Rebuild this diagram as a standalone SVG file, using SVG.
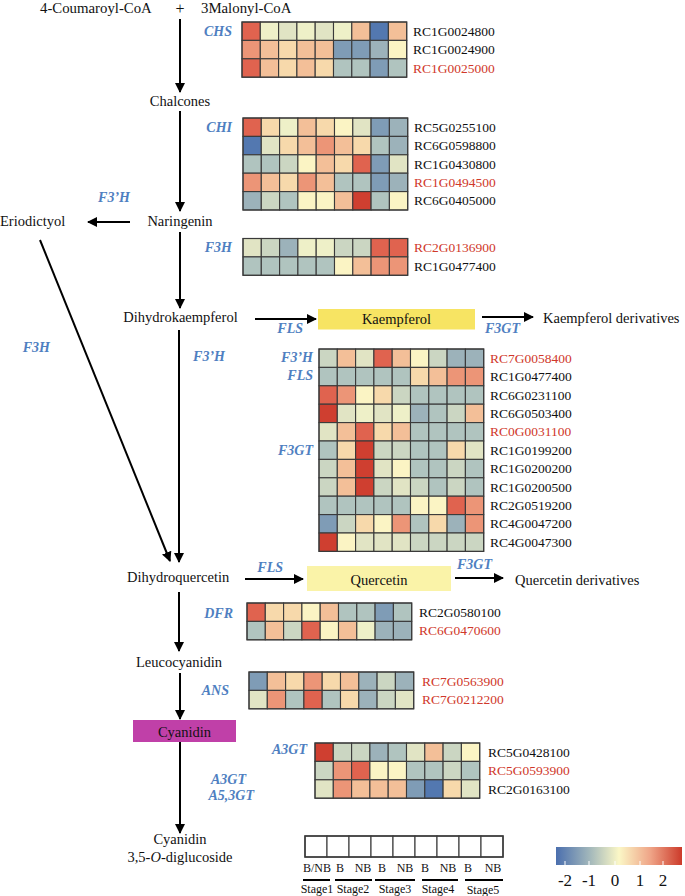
<svg xmlns="http://www.w3.org/2000/svg" width="685" height="896" viewBox="0 0 685 896">
<style>
text{font-family:"Liberation Serif","Times New Roman",serif;fill:#111}
.n{font-size:14.5px}
.id{font-size:13.5px}
.red{fill:#d0382a}
.en{font-size:14px;font-weight:bold;font-style:italic;fill:#4f7fc1}
.sm{font-size:12px}
.ln{stroke:#000;stroke-width:2;fill:none}
.hm rect{stroke:#3a3a3a;stroke-width:1.1}
.fr{fill:none;stroke:#333;stroke-width:2}
.R3{fill:#cf3f30}.R2{fill:#e0634f}.R1{fill:#ec9577}.O{fill:#f3bf98}.Y2{fill:#f7d9ab}
.Y{fill:#fbf4c4}.YG{fill:#eef0c8}.G1{fill:#e1e4c4}.G2{fill:#cbd6c2}.G3{fill:#b0c4bf}
.B1{fill:#9cb2ba}.B2{fill:#7f9cb6}.B3{fill:#5378b0}.W{fill:#fff}
</style>
<defs>
<marker id="ah" viewBox="0 0 10 10" refX="9" refY="5" markerWidth="5" markerHeight="5" orient="auto" markerUnits="strokeWidth">
<path d="M0,0 L10,5 L0,10 z" fill="#000"/>
</marker>
<linearGradient id="cb" x1="0" x2="1" y1="0" y2="0">
<stop offset="0" stop-color="#4b6fae"/>
<stop offset="0.27" stop-color="#a3b8bb"/>
<stop offset="0.5" stop-color="#fbf7c6"/>
<stop offset="0.75" stop-color="#efa487"/>
<stop offset="1" stop-color="#cc3a2a"/>
</linearGradient>
</defs>

<g id="connectors">
<line class="ln" x1="180" y1="19" x2="180" y2="92" marker-end="url(#ah)"/>
<line class="ln" x1="180" y1="111" x2="180" y2="211" marker-end="url(#ah)"/>
<line class="ln" x1="130" y1="222" x2="88" y2="222" marker-end="url(#ah)"/>
<line class="ln" x1="180" y1="232" x2="180" y2="308" marker-end="url(#ah)"/>
<line class="ln" x1="40" y1="240" x2="170" y2="561" marker-end="url(#ah)"/>
<line class="ln" x1="179" y1="330" x2="179" y2="562" marker-end="url(#ah)"/>
<line class="ln" x1="255" y1="319" x2="316" y2="319" marker-end="url(#ah)"/>
<line class="ln" x1="482" y1="317" x2="533" y2="317" marker-end="url(#ah)"/>
<line class="ln" x1="245" y1="579" x2="303" y2="579" marker-end="url(#ah)"/>
<line class="ln" x1="455" y1="578" x2="503" y2="578" marker-end="url(#ah)"/>
<line class="ln" x1="179" y1="592" x2="179" y2="651" marker-end="url(#ah)"/>
<line class="ln" x1="180" y1="673" x2="180" y2="719" marker-end="url(#ah)"/>
<line class="ln" x1="180" y1="742" x2="180" y2="833" marker-end="url(#ah)"/>
</g>

<g id="substrates">
<text class="n" x="40" y="13" style="font-size:14.8px">4-Coumaroyl-CoA</text>
<text class="n" x="180" y="14" text-anchor="middle" style="font-size:16px">+</text>
<text class="n" x="201" y="13" style="font-size:14.8px">3Malonyl-CoA</text>
</g>
<g id="chalcones"><text class="n" x="180" y="106" text-anchor="middle">Chalcones</text></g>
<g id="naringenin"><text class="n" x="180" y="226" text-anchor="middle">Naringenin</text></g>
<g id="eriodictyol"><text class="n" x="0" y="226">Eriodictyol</text></g>
<g id="dihydrokaempferol"><text class="n" x="180.5" y="322" text-anchor="middle">Dihydrokaempferol</text></g>
<g id="kaempferol">
<rect x="318" y="309" width="157" height="20.5" fill="#f7e463"/>
<text class="n" x="396.5" y="324" text-anchor="middle">Kaempferol</text>
</g>
<g id="kaempferol-derivatives"><text class="n" x="543" y="323">Kaempferol derivatives</text></g>
<g id="dihydroquercetin"><text class="n" x="127" y="582">Dihydroquercetin</text></g>
<g id="quercetin">
<rect x="307" y="566" width="144" height="25" fill="#faf3a8"/>
<text class="n" x="379" y="585" text-anchor="middle">Quercetin</text>
</g>
<g id="quercetin-derivatives"><text class="n" x="515" y="585">Quercetin derivatives</text></g>
<g id="leucocyanidin"><text class="n" x="179" y="667" text-anchor="middle">Leucocyanidin</text></g>
<g id="cyanidin">
<rect x="133" y="720" width="103" height="22" fill="#c040a8"/>
<text class="n" x="184.5" y="736.5" text-anchor="middle">Cyanidin</text>
</g>
<g id="cyanidin-diglucoside">
<text class="n" x="180" y="844" text-anchor="middle">Cyanidin</text>
<text class="n" x="180" y="862" text-anchor="middle">3,5-<tspan font-style="italic">O</tspan>-diglucoside</text>
</g>

<g id="enzyme-labels">
<text class="en" x="232" y="36" text-anchor="end">CHS</text>
<text class="en" x="232" y="132" text-anchor="end">CHI</text>
<text class="en" x="130" y="202" text-anchor="end">F3’H</text>
<text class="en" x="232" y="252" text-anchor="end">F3H</text>
<text class="en" x="303" y="333" text-anchor="end">FLS</text>
<text class="en" x="520" y="333" text-anchor="end">F3GT</text>
<text class="en" x="50" y="352" text-anchor="end">F3H</text>
<text class="en" x="225" y="361" text-anchor="end">F3’H</text>
<text class="en" x="313" y="362" text-anchor="end">F3’H</text>
<text class="en" x="313" y="380" text-anchor="end">FLS</text>
<text class="en" x="313" y="455" text-anchor="end">F3GT</text>
<text class="en" x="283" y="572" text-anchor="end">FLS</text>
<text class="en" x="492" y="569" text-anchor="end">F3GT</text>
<text class="en" x="233" y="618" text-anchor="end">DFR</text>
<text class="en" x="229" y="695" text-anchor="end">ANS</text>
<text class="en" x="307" y="754" text-anchor="end">A3GT</text>
<text class="en" x="246" y="784" text-anchor="end">A3GT</text>
<text class="en" x="254" y="800" text-anchor="end">A5,3GT</text>
</g>

<g id="heatmap-chs" class="hm" transform="translate(242,22)">
<g><rect x="0" width="18.3" height="18.4" class="R2"/><rect x="18.3" width="18.3" height="18.4" class="YG"/><rect x="36.6" width="18.3" height="18.4" class="G1"/><rect x="54.9" width="18.3" height="18.4" class="YG"/><rect x="73.2" width="18.3" height="18.4" class="G1"/><rect x="91.5" width="18.3" height="18.4" class="YG"/><rect x="109.8" width="18.3" height="18.4" class="O"/><rect x="128.1" width="18.3" height="18.4" class="B3"/><rect x="146.4" width="18.3" height="18.4" class="O"/></g>
<g transform="translate(0,18.4)"><rect x="0" width="18.3" height="18.4" class="R1"/><rect x="18.3" width="18.3" height="18.4" class="O"/><rect x="36.6" width="18.3" height="18.4" class="Y2"/><rect x="54.9" width="18.3" height="18.4" class="O"/><rect x="73.2" width="18.3" height="18.4" class="O"/><rect x="91.5" width="18.3" height="18.4" class="B2"/><rect x="109.8" width="18.3" height="18.4" class="B2"/><rect x="128.1" width="18.3" height="18.4" class="B1"/><rect x="146.4" width="18.3" height="18.4" class="Y"/></g>
<g transform="translate(0,36.8)"><rect x="0" width="18.3" height="18.4" class="R2"/><rect x="18.3" width="18.3" height="18.4" class="O"/><rect x="36.6" width="18.3" height="18.4" class="Y2"/><rect x="54.9" width="18.3" height="18.4" class="O"/><rect x="73.2" width="18.3" height="18.4" class="Y2"/><rect x="91.5" width="18.3" height="18.4" class="G3"/><rect x="109.8" width="18.3" height="18.4" class="G3"/><rect x="128.1" width="18.3" height="18.4" class="B2"/><rect x="146.4" width="18.3" height="18.4" class="G3"/></g>
<rect class="fr" width="164.7" height="55.2"/>
<text class="id" x="171" y="13.7">RC1G0024800</text>
<text class="id" x="171" y="32">RC1G0024900</text>
<text class="id red" x="171" y="50.5">RC1G0025000</text>
</g>

<g id="heatmap-chi" class="hm" transform="translate(243,118)">
<g><rect x="0" width="18.3" height="18.4" class="R2"/><rect x="18.3" width="18.3" height="18.4" class="Y2"/><rect x="36.6" width="18.3" height="18.4" class="YG"/><rect x="54.9" width="18.3" height="18.4" class="O"/><rect x="73.2" width="18.3" height="18.4" class="Y2"/><rect x="91.5" width="18.3" height="18.4" class="Y"/><rect x="109.8" width="18.3" height="18.4" class="G1"/><rect x="128.1" width="18.3" height="18.4" class="B2"/><rect x="146.4" width="18.3" height="18.4" class="B1"/></g>
<g transform="translate(0,18.4)"><rect x="0" width="18.3" height="18.4" class="B3"/><rect x="18.3" width="18.3" height="18.4" class="G1"/><rect x="36.6" width="18.3" height="18.4" class="Y2"/><rect x="54.9" width="18.3" height="18.4" class="O"/><rect x="73.2" width="18.3" height="18.4" class="R1"/><rect x="91.5" width="18.3" height="18.4" class="O"/><rect x="109.8" width="18.3" height="18.4" class="Y2"/><rect x="128.1" width="18.3" height="18.4" class="G3"/><rect x="146.4" width="18.3" height="18.4" class="B1"/></g>
<g transform="translate(0,36.8)"><rect x="0" width="18.3" height="18.4" class="G3"/><rect x="18.3" width="18.3" height="18.4" class="G3"/><rect x="36.6" width="18.3" height="18.4" class="G2"/><rect x="54.9" width="18.3" height="18.4" class="Y"/><rect x="73.2" width="18.3" height="18.4" class="O"/><rect x="91.5" width="18.3" height="18.4" class="Y2"/><rect x="109.8" width="18.3" height="18.4" class="R2"/><rect x="128.1" width="18.3" height="18.4" class="B2"/><rect x="146.4" width="18.3" height="18.4" class="G1"/></g>
<g transform="translate(0,55.2)"><rect x="0" width="18.3" height="18.4" class="R1"/><rect x="18.3" width="18.3" height="18.4" class="O"/><rect x="36.6" width="18.3" height="18.4" class="Y2"/><rect x="54.9" width="18.3" height="18.4" class="R1"/><rect x="73.2" width="18.3" height="18.4" class="O"/><rect x="91.5" width="18.3" height="18.4" class="G3"/><rect x="109.8" width="18.3" height="18.4" class="G3"/><rect x="128.1" width="18.3" height="18.4" class="B2"/><rect x="146.4" width="18.3" height="18.4" class="B1"/></g>
<g transform="translate(0,73.6)"><rect x="0" width="18.3" height="18.4" class="B1"/><rect x="18.3" width="18.3" height="18.4" class="G2"/><rect x="36.6" width="18.3" height="18.4" class="G3"/><rect x="54.9" width="18.3" height="18.4" class="Y"/><rect x="73.2" width="18.3" height="18.4" class="Y"/><rect x="91.5" width="18.3" height="18.4" class="O"/><rect x="109.8" width="18.3" height="18.4" class="R3"/><rect x="128.1" width="18.3" height="18.4" class="G3"/><rect x="146.4" width="18.3" height="18.4" class="Y"/></g>
<rect class="fr" width="164.7" height="92"/>
<text class="id" x="171" y="13.7">RC5G0255100</text>
<text class="id" x="171" y="32">RC6G0598800</text>
<text class="id" x="171" y="50.5">RC1G0430800</text>
<text class="id red" x="171" y="68.9">RC1G0494500</text>
<text class="id" x="171" y="87.3">RC6G0405000</text>
</g>

<g id="heatmap-f3h" class="hm" transform="translate(243,238.5)">
<g><rect x="0" width="18.3" height="18.4" class="G1"/><rect x="18.3" width="18.3" height="18.4" class="G2"/><rect x="36.6" width="18.3" height="18.4" class="B1"/><rect x="54.9" width="18.3" height="18.4" class="YG"/><rect x="73.2" width="18.3" height="18.4" class="YG"/><rect x="91.5" width="18.3" height="18.4" class="G2"/><rect x="109.8" width="18.3" height="18.4" class="G2"/><rect x="128.1" width="18.3" height="18.4" class="R2"/><rect x="146.4" width="18.3" height="18.4" class="R2"/></g>
<g transform="translate(0,18.4)"><rect x="0" width="18.3" height="18.4" class="G3"/><rect x="18.3" width="18.3" height="18.4" class="G3"/><rect x="36.6" width="18.3" height="18.4" class="G3"/><rect x="54.9" width="18.3" height="18.4" class="G3"/><rect x="73.2" width="18.3" height="18.4" class="G3"/><rect x="91.5" width="18.3" height="18.4" class="Y"/><rect x="109.8" width="18.3" height="18.4" class="O"/><rect x="128.1" width="18.3" height="18.4" class="R1"/><rect x="146.4" width="18.3" height="18.4" class="R1"/></g>
<rect class="fr" width="164.7" height="36.8"/>
<text class="id red" x="171" y="13.7">RC2G0136900</text>
<text class="id" x="171" y="32">RC1G0477400</text>
</g>

<g id="heatmap-fls-f3gt" class="hm" transform="translate(319,349)">
<g><rect x="0" width="18.3" height="18.4" class="G2"/><rect x="18.3" width="18.3" height="18.4" class="O"/><rect x="36.6" width="18.3" height="18.4" class="G1"/><rect x="54.9" width="18.3" height="18.4" class="R2"/><rect x="73.2" width="18.3" height="18.4" class="O"/><rect x="91.5" width="18.3" height="18.4" class="Y"/><rect x="109.8" width="18.3" height="18.4" class="G2"/><rect x="128.1" width="18.3" height="18.4" class="B1"/><rect x="146.4" width="18.3" height="18.4" class="B1"/></g>
<g transform="translate(0,18.4)"><rect x="0" width="18.3" height="18.4" class="G3"/><rect x="18.3" width="18.3" height="18.4" class="G3"/><rect x="36.6" width="18.3" height="18.4" class="G3"/><rect x="54.9" width="18.3" height="18.4" class="G3"/><rect x="73.2" width="18.3" height="18.4" class="G3"/><rect x="91.5" width="18.3" height="18.4" class="Y2"/><rect x="109.8" width="18.3" height="18.4" class="O"/><rect x="128.1" width="18.3" height="18.4" class="R1"/><rect x="146.4" width="18.3" height="18.4" class="R1"/></g>
<g transform="translate(0,36.8)"><rect x="0" width="18.3" height="18.4" class="R2"/><rect x="18.3" width="18.3" height="18.4" class="R1"/><rect x="36.6" width="18.3" height="18.4" class="Y"/><rect x="54.9" width="18.3" height="18.4" class="Y2"/><rect x="73.2" width="18.3" height="18.4" class="G2"/><rect x="91.5" width="18.3" height="18.4" class="G3"/><rect x="109.8" width="18.3" height="18.4" class="G3"/><rect x="128.1" width="18.3" height="18.4" class="G3"/><rect x="146.4" width="18.3" height="18.4" class="G3"/></g>
<g transform="translate(0,55.2)"><rect x="0" width="18.3" height="18.4" class="R3"/><rect x="18.3" width="18.3" height="18.4" class="G1"/><rect x="36.6" width="18.3" height="18.4" class="YG"/><rect x="54.9" width="18.3" height="18.4" class="G1"/><rect x="73.2" width="18.3" height="18.4" class="YG"/><rect x="91.5" width="18.3" height="18.4" class="B1"/><rect x="109.8" width="18.3" height="18.4" class="G3"/><rect x="128.1" width="18.3" height="18.4" class="G2"/><rect x="146.4" width="18.3" height="18.4" class="O"/></g>
<g transform="translate(0,73.6)"><rect x="0" width="18.3" height="18.4" class="G1"/><rect x="18.3" width="18.3" height="18.4" class="O"/><rect x="36.6" width="18.3" height="18.4" class="R2"/><rect x="54.9" width="18.3" height="18.4" class="Y2"/><rect x="73.2" width="18.3" height="18.4" class="O"/><rect x="91.5" width="18.3" height="18.4" class="G3"/><rect x="109.8" width="18.3" height="18.4" class="G3"/><rect x="128.1" width="18.3" height="18.4" class="G3"/><rect x="146.4" width="18.3" height="18.4" class="G3"/></g>
<g transform="translate(0,92)"><rect x="0" width="18.3" height="18.4" class="G3"/><rect x="18.3" width="18.3" height="18.4" class="Y2"/><rect x="36.6" width="18.3" height="18.4" class="R3"/><rect x="54.9" width="18.3" height="18.4" class="G2"/><rect x="73.2" width="18.3" height="18.4" class="G2"/><rect x="91.5" width="18.3" height="18.4" class="G3"/><rect x="109.8" width="18.3" height="18.4" class="G3"/><rect x="128.1" width="18.3" height="18.4" class="Y2"/><rect x="146.4" width="18.3" height="18.4" class="G1"/></g>
<g transform="translate(0,110.4)"><rect x="0" width="18.3" height="18.4" class="G2"/><rect x="18.3" width="18.3" height="18.4" class="O"/><rect x="36.6" width="18.3" height="18.4" class="R3"/><rect x="54.9" width="18.3" height="18.4" class="G1"/><rect x="73.2" width="18.3" height="18.4" class="Y"/><rect x="91.5" width="18.3" height="18.4" class="G3"/><rect x="109.8" width="18.3" height="18.4" class="G3"/><rect x="128.1" width="18.3" height="18.4" class="G2"/><rect x="146.4" width="18.3" height="18.4" class="G3"/></g>
<g transform="translate(0,128.8)"><rect x="0" width="18.3" height="18.4" class="G2"/><rect x="18.3" width="18.3" height="18.4" class="O"/><rect x="36.6" width="18.3" height="18.4" class="R3"/><rect x="54.9" width="18.3" height="18.4" class="G2"/><rect x="73.2" width="18.3" height="18.4" class="G1"/><rect x="91.5" width="18.3" height="18.4" class="G2"/><rect x="109.8" width="18.3" height="18.4" class="G3"/><rect x="128.1" width="18.3" height="18.4" class="G2"/><rect x="146.4" width="18.3" height="18.4" class="G3"/></g>
<g transform="translate(0,147.2)"><rect x="0" width="18.3" height="18.4" class="G3"/><rect x="18.3" width="18.3" height="18.4" class="G3"/><rect x="36.6" width="18.3" height="18.4" class="G3"/><rect x="54.9" width="18.3" height="18.4" class="G3"/><rect x="73.2" width="18.3" height="18.4" class="G3"/><rect x="91.5" width="18.3" height="18.4" class="Y"/><rect x="109.8" width="18.3" height="18.4" class="Y"/><rect x="128.1" width="18.3" height="18.4" class="R2"/><rect x="146.4" width="18.3" height="18.4" class="R1"/></g>
<g transform="translate(0,165.6)"><rect x="0" width="18.3" height="18.4" class="B2"/><rect x="18.3" width="18.3" height="18.4" class="G2"/><rect x="36.6" width="18.3" height="18.4" class="Y2"/><rect x="54.9" width="18.3" height="18.4" class="Y"/><rect x="73.2" width="18.3" height="18.4" class="R1"/><rect x="91.5" width="18.3" height="18.4" class="G3"/><rect x="109.8" width="18.3" height="18.4" class="Y2"/><rect x="128.1" width="18.3" height="18.4" class="B1"/><rect x="146.4" width="18.3" height="18.4" class="R1"/></g>
<g transform="translate(0,184)"><rect x="0" width="18.3" height="18.4" class="R3"/><rect x="18.3" width="18.3" height="18.4" class="Y"/><rect x="36.6" width="18.3" height="18.4" class="G1"/><rect x="54.9" width="18.3" height="18.4" class="G1"/><rect x="73.2" width="18.3" height="18.4" class="G1"/><rect x="91.5" width="18.3" height="18.4" class="G2"/><rect x="109.8" width="18.3" height="18.4" class="G2"/><rect x="128.1" width="18.3" height="18.4" class="G2"/><rect x="146.4" width="18.3" height="18.4" class="G2"/></g>
<rect class="fr" width="164.7" height="202.4"/>
<text class="id red" x="171" y="13.7">RC7G0058400</text>
<text class="id" x="171" y="32.1">RC1G0477400</text>
<text class="id" x="171" y="50.5">RC6G0231100</text>
<text class="id" x="171" y="68.9">RC6G0503400</text>
<text class="id red" x="171" y="87.3">RC0G0031100</text>
<text class="id" x="171" y="105.7">RC1G0199200</text>
<text class="id" x="171" y="124.1">RC1G0200200</text>
<text class="id" x="171" y="142.5">RC1G0200500</text>
<text class="id" x="171" y="160.9">RC2G0519200</text>
<text class="id" x="171" y="179.3">RC4G0047200</text>
<text class="id" x="171" y="197.7">RC4G0047300</text>
</g>

<g id="heatmap-dfr" class="hm" transform="translate(247,603)">
<g><rect x="0" width="18.3" height="18.4" class="R2"/><rect x="18.3" width="18.3" height="18.4" class="Y2"/><rect x="36.6" width="18.3" height="18.4" class="Y2"/><rect x="54.9" width="18.3" height="18.4" class="Y"/><rect x="73.2" width="18.3" height="18.4" class="O"/><rect x="91.5" width="18.3" height="18.4" class="G3"/><rect x="109.8" width="18.3" height="18.4" class="G3"/><rect x="128.1" width="18.3" height="18.4" class="B2"/><rect x="146.4" width="18.3" height="18.4" class="G3"/></g>
<g transform="translate(0,18.4)"><rect x="0" width="18.3" height="18.4" class="G3"/><rect x="18.3" width="18.3" height="18.4" class="O"/><rect x="36.6" width="18.3" height="18.4" class="G2"/><rect x="54.9" width="18.3" height="18.4" class="R2"/><rect x="73.2" width="18.3" height="18.4" class="Y"/><rect x="91.5" width="18.3" height="18.4" class="O"/><rect x="109.8" width="18.3" height="18.4" class="YG"/><rect x="128.1" width="18.3" height="18.4" class="B1"/><rect x="146.4" width="18.3" height="18.4" class="B1"/></g>
<rect class="fr" width="164.7" height="36.8"/>
<text class="id" x="172" y="13.7">RC2G0580100</text>
<text class="id red" x="172" y="32">RC6G0470600</text>
</g>

<g id="heatmap-ans" class="hm" transform="translate(249,672)">
<g><rect x="0" width="18.3" height="18.4" class="B2"/><rect x="18.3" width="18.3" height="18.4" class="O"/><rect x="36.6" width="18.3" height="18.4" class="Y2"/><rect x="54.9" width="18.3" height="18.4" class="R1"/><rect x="73.2" width="18.3" height="18.4" class="Y2"/><rect x="91.5" width="18.3" height="18.4" class="O"/><rect x="109.8" width="18.3" height="18.4" class="B1"/><rect x="128.1" width="18.3" height="18.4" class="G2"/><rect x="146.4" width="18.3" height="18.4" class="B1"/></g>
<g transform="translate(0,18.4)"><rect x="0" width="18.3" height="18.4" class="G1"/><rect x="18.3" width="18.3" height="18.4" class="R1"/><rect x="36.6" width="18.3" height="18.4" class="G3"/><rect x="54.9" width="18.3" height="18.4" class="R2"/><rect x="73.2" width="18.3" height="18.4" class="G3"/><rect x="91.5" width="18.3" height="18.4" class="Y2"/><rect x="109.8" width="18.3" height="18.4" class="B1"/><rect x="128.1" width="18.3" height="18.4" class="G2"/><rect x="146.4" width="18.3" height="18.4" class="G1"/></g>
<rect class="fr" width="164.7" height="36.8"/>
<text class="id red" x="173" y="13.7">RC7G0563900</text>
<text class="id red" x="173" y="32">RC7G0212200</text>
</g>

<g id="heatmap-a3gt" class="hm" transform="translate(315,743)">
<g><rect x="0" width="18.3" height="18.4" class="R3"/><rect x="18.3" width="18.3" height="18.4" class="G2"/><rect x="36.6" width="18.3" height="18.4" class="G2"/><rect x="54.9" width="18.3" height="18.4" class="B1"/><rect x="73.2" width="18.3" height="18.4" class="G3"/><rect x="91.5" width="18.3" height="18.4" class="G1"/><rect x="109.8" width="18.3" height="18.4" class="O"/><rect x="128.1" width="18.3" height="18.4" class="G2"/><rect x="146.4" width="18.3" height="18.4" class="Y"/></g>
<g transform="translate(0,18.4)"><rect x="0" width="18.3" height="18.4" class="G2"/><rect x="18.3" width="18.3" height="18.4" class="R1"/><rect x="36.6" width="18.3" height="18.4" class="R2"/><rect x="54.9" width="18.3" height="18.4" class="Y"/><rect x="73.2" width="18.3" height="18.4" class="Y"/><rect x="91.5" width="18.3" height="18.4" class="G3"/><rect x="109.8" width="18.3" height="18.4" class="G3"/><rect x="128.1" width="18.3" height="18.4" class="G2"/><rect x="146.4" width="18.3" height="18.4" class="G3"/></g>
<g transform="translate(0,36.8)"><rect x="0" width="18.3" height="18.4" class="G1"/><rect x="18.3" width="18.3" height="18.4" class="R1"/><rect x="36.6" width="18.3" height="18.4" class="O"/><rect x="54.9" width="18.3" height="18.4" class="O"/><rect x="73.2" width="18.3" height="18.4" class="O"/><rect x="91.5" width="18.3" height="18.4" class="B2"/><rect x="109.8" width="18.3" height="18.4" class="B3"/><rect x="128.1" width="18.3" height="18.4" class="Y2"/><rect x="146.4" width="18.3" height="18.4" class="G1"/></g>
<rect class="fr" width="164.7" height="55.2"/>
<text class="id" x="173" y="13.7">RC5G0428100</text>
<text class="id red" x="173" y="32">RC5G0593900</text>
<text class="id" x="173" y="50.5">RC2G0163100</text>
</g>

<g id="legend-samples" class="hm" transform="translate(305,836)">
<rect x="0" width="22" height="21" class="W"/><rect x="22" width="22" height="21" class="W"/><rect x="44" width="22" height="21" class="W"/><rect x="66" width="22" height="21" class="W"/><rect x="88" width="22" height="21" class="W"/><rect x="110" width="22" height="21" class="W"/><rect x="132" width="22" height="21" class="W"/><rect x="154" width="22" height="21" class="W"/><rect x="176" width="22" height="21" class="W"/>
<rect class="fr" width="198" height="21" style="stroke-width:1.5"/>
</g>
<g id="legend-labels">
<text class="sm" x="317" y="872" text-anchor="middle">B/NB</text>
<text class="sm" x="340" y="872" text-anchor="middle">B</text>
<text class="sm" x="363" y="872" text-anchor="middle">NB</text>
<text class="sm" x="382" y="872" text-anchor="middle">B</text>
<text class="sm" x="405" y="872" text-anchor="middle">NB</text>
<text class="sm" x="425" y="872" text-anchor="middle">B</text>
<text class="sm" x="448" y="872" text-anchor="middle">NB</text>
<text class="sm" x="468" y="872" text-anchor="middle">B</text>
<text class="sm" x="493" y="872" text-anchor="middle">NB</text>
<path d="M303,880 H330 M335,880 H372 M375,880 H415 M422,880 H458 M465,880 H503" stroke="#000" stroke-width="2"/>
<text class="sm" x="317" y="893" text-anchor="middle">Stage1</text>
<text class="sm" x="353" y="893" text-anchor="middle">Stage2</text>
<text class="sm" x="395" y="893" text-anchor="middle">Stage3</text>
<text class="sm" x="438" y="893" text-anchor="middle">Stage4</text>
<text class="sm" x="483" y="894" text-anchor="middle">Stage5</text>
</g>

<g id="colorbar">
<rect x="556" y="847" width="126" height="18" fill="url(#cb)"/>
<path d="M565,861V865M589,861V865M615,861V865M640,861V865M663,861V865" stroke="#fff" stroke-width="1"/>
<text x="565" y="886" text-anchor="middle" style="font-size:17px">-2</text>
<text x="589" y="886" text-anchor="middle" style="font-size:17px">-1</text>
<text x="615" y="886" text-anchor="middle" style="font-size:17px">0</text>
<text x="640" y="886" text-anchor="middle" style="font-size:17px">1</text>
<text x="663" y="886" text-anchor="middle" style="font-size:17px">2</text>
</g>
</svg>
